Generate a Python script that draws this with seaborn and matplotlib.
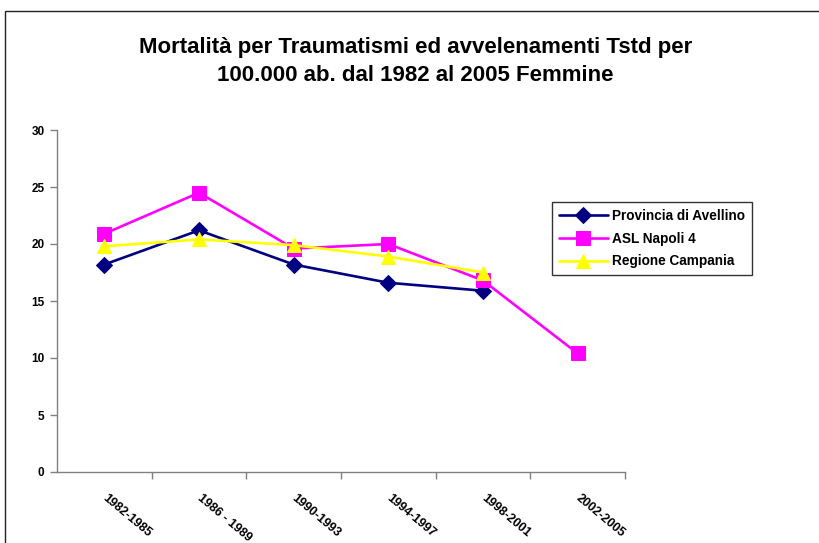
import numpy as np
import matplotlib
matplotlib.use("Agg")
import matplotlib.pyplot as plt
import matplotlib.patches as patches
import seaborn as sns

# dati
periodi = ['1982-1985', '1986 - 1989', '1990-1993', '1994-1997', '1998-2001', '2002-2005']
avellino = [18.2, 21.2, 18.2, 16.6, 15.9, np.nan]
asl_napoli4 = [20.9, 24.5, 19.6, 20.0, 16.8, 10.4]
campania = [19.8, 20.4, 19.9, 18.9, 17.5, np.nan]

titolo = "Mortalità per Traumatismi ed avvelenamenti Tstd per\n100.000 ab. dal 1982 al 2005 Femmine"

sns.set_style("white")
plt.rcParams['font.family'] = ['Liberation Sans', 'DejaVu Sans']
plt.rcParams['text.color'] = 'black'
plt.rcParams['xtick.color'] = 'black'
plt.rcParams['ytick.color'] = 'black'

fig = plt.figure(figsize=(8.19, 5.43), dpi=100)
ax = fig.add_axes([57 / 819, 71 / 543, 568 / 819, 342 / 543])

x = np.arange(len(periodi))
sns.lineplot(x=x, y=avellino, ax=ax, color='#000080', marker='D', markersize=8.5,
             markeredgecolor='#000080', linewidth=1.9, label='Provincia di Avellino')
sns.lineplot(x=x, y=asl_napoli4, ax=ax, color='#FF00FF', marker='s', markersize=10.5,
             markeredgecolor='#FF00FF', linewidth=1.9, label='ASL Napoli 4')
sns.lineplot(x=x, y=campania, ax=ax, color='#FFFF00', marker='^', markersize=10.5,
             markeredgecolor='#FFFF00', linewidth=1.9, label='Regione Campania')

ax.set_xlim(-0.5, len(periodi) - 0.5)
ax.set_ylim(0, 30)
ax.set_yticks(range(0, 31, 5))
ax.set_xticks(x)
ax.set_xticklabels(periodi, rotation=-40, ha='left', va='center',
                   rotation_mode='anchor', fontweight='bold', fontsize=9)
ax.set_xticks(np.arange(0.5, len(periodi), 1), minor=True)
ax.tick_params(axis='x', which='major', bottom=True, length=0, pad=18)
ax.tick_params(axis='x', which='minor', bottom=True, length=5, color='#808080',
               width=1, direction='out')
ax.tick_params(axis='y', left=True, length=5, color='#808080', width=1,
               direction='out', pad=4, labelcolor='black')
for lab in ax.get_yticklabels():
    lab.set_fontweight('bold')
    lab.set_fontsize(8.5)

for s in ['top', 'right']:
    ax.spines[s].set_visible(False)
for s in ['left', 'bottom']:
    ax.spines[s].set_color('#808080')
    ax.spines[s].set_linewidth(1)
ax.set_xlabel('')
ax.set_ylabel('')

leg = ax.legend(loc='upper left', bbox_to_anchor=(552 / 819, 1 - 202 / 543),
                bbox_transform=fig.transFigure, borderaxespad=0, frameon=True,
                fancybox=False, handlelength=3.6, handletextpad=0.3, labelspacing=0.65,
                prop={'weight': 'bold', 'size': 9.8}, borderpad=0.5)
leg.get_frame().set_edgecolor('black')
leg.get_frame().set_linewidth(1)

fig.text(0.507, 0.887, titolo, ha='center', va='center', fontsize=16,
         fontweight='bold', linespacing=1.45)

# cornice esterna del grafico
fig.patches.append(patches.Rectangle((5 / 819, -0.1), 1.2, 1 - 11 / 543 + 0.1,
                                     transform=fig.transFigure, fill=False,
                                     edgecolor='#222222', linewidth=1))

fig.savefig('out.png', dpi=100)
